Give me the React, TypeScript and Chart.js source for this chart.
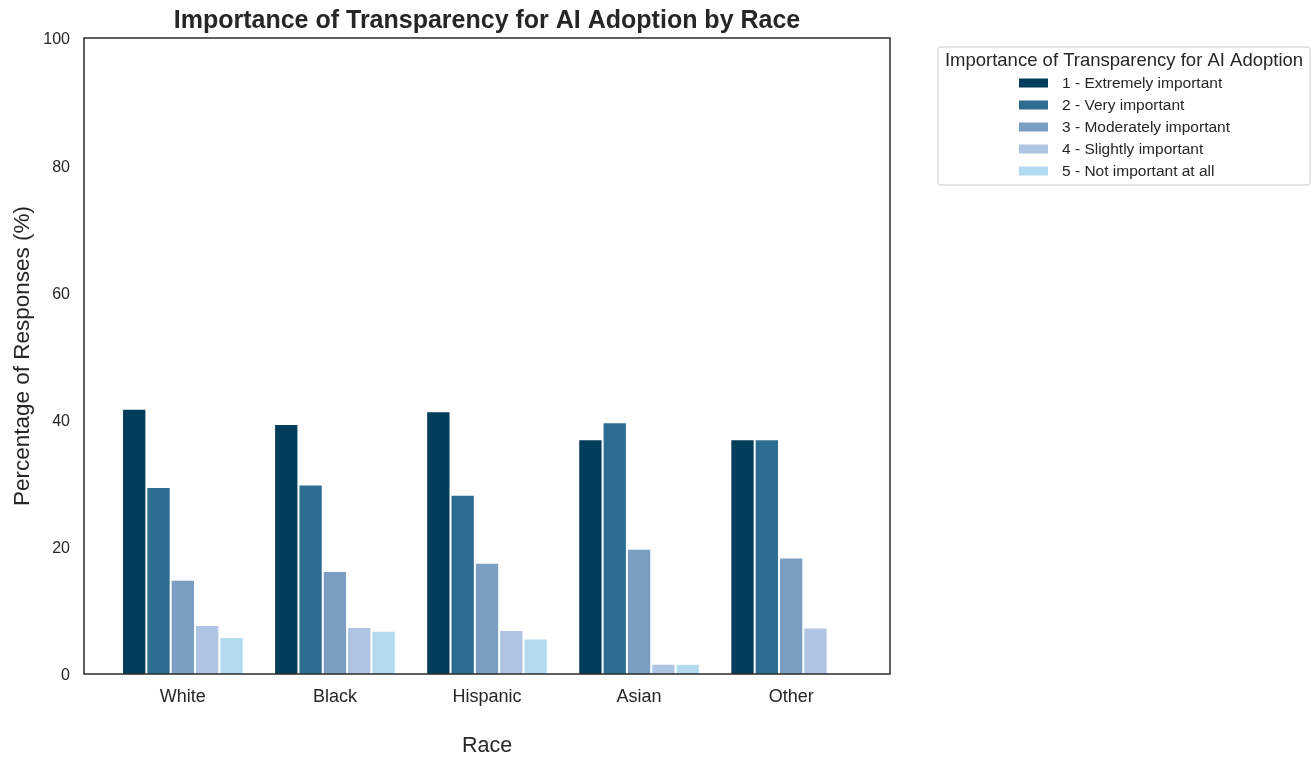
import React, { useEffect, useRef } from "react";
import { Chart, registerables } from "chart.js";

Chart.register(...registerables);

const categories = ["White", "Black", "Hispanic", "Asian", "Other"];
const seriesNames = [
  "1 - Extremely important",
  "2 - Very important",
  "3 - Moderately important",
  "4 - Slightly important",
  "5 - Not important at all",
];
const extremely = [41.7, 39.3, 41.3, 36.9, 36.9];
const very = [29.4, 29.8, 28.2, 39.6, 36.9];
const moderately = [14.8, 16.2, 17.5, 19.7, 18.3];
const slightly = [7.7, 7.4, 6.9, 1.6, 7.3];
const notAtAll = [5.8, 6.8, 5.6, 1.6, 0];
const seriesValues = [extremely, very, moderately, slightly, notAtAll];
const colors = ["#023d5b", "#2e6d92", "#7a9ec2", "#afc4e2", "#b2dbf0"];
const yTicks = [0, 20, 40, 60, 80, 100];

const FONT = "'Liberation Sans', Arial, Helvetica, sans-serif";
const TEXT = "#262626";

const framePlugin = {
  id: "frameAndExtras",
  afterDraw(chart: any) {
    const { ctx, chartArea } = chart;
    ctx.save();
    // frame
    ctx.strokeStyle = "#2b2b2b";
    ctx.lineWidth = 1.5;
    ctx.strokeRect(
      chartArea.left,
      chartArea.top,
      chartArea.right - chartArea.left,
      chartArea.bottom - chartArea.top
    );
    // title
    ctx.fillStyle = TEXT;
    ctx.font = `bold 25px ${FONT}`;
    ctx.textAlign = "center";
    ctx.textBaseline = "middle";
    ctx.fillText(
      "Importance of Transparency for AI Adoption by Race",
      (chartArea.left + chartArea.right) / 2,
      21
    );
    // legend
    const lx = 938, ly = 47, lw = 372, lh = 138;
    ctx.strokeStyle = "#cccccc";
    ctx.lineWidth = 1;
    ctx.beginPath();
    const r = 3;
    ctx.moveTo(lx + r, ly);
    ctx.lineTo(lx + lw - r, ly);
    ctx.quadraticCurveTo(lx + lw, ly, lx + lw, ly + r);
    ctx.lineTo(lx + lw, ly + lh - r);
    ctx.quadraticCurveTo(lx + lw, ly + lh, lx + lw - r, ly + lh);
    ctx.lineTo(lx + r, ly + lh);
    ctx.quadraticCurveTo(lx, ly + lh, lx, ly + lh - r);
    ctx.lineTo(lx, ly + r);
    ctx.quadraticCurveTo(lx, ly, lx + r, ly);
    ctx.closePath();
    ctx.fillStyle = "#ffffff";
    ctx.fill();
    ctx.stroke();
    ctx.fillStyle = TEXT;
    ctx.font = `18.5px ${FONT}`;
    ctx.textAlign = "center";
    ctx.fillText("Importance of Transparency for AI Adoption", lx + lw / 2, 61);
    ctx.font = `15.5px ${FONT}`;
    ctx.textAlign = "left";
    seriesNames.forEach((name, i) => {
      const cy = 83 + i * 22;
      ctx.fillStyle = colors[i];
      ctx.fillRect(1019, cy - 4.5, 29, 9);
      ctx.fillStyle = TEXT;
      ctx.fillText(name, 1062, cy + 1);
    });
    ctx.restore();
  },
};

export default function App() {
  const canvasRef = useRef<HTMLCanvasElement | null>(null);

  useEffect(() => {
    if (!canvasRef.current) return;
    const datasets = seriesNames.map((name, si) => ({
      label: name,
      data: seriesValues[si].map((v, ci) => ({ x: ci, y: v })),
      backgroundColor: colors[si],
      borderColor: "#ffffff",
      borderWidth: 1,
      categoryPercentage: 0.8,
      barPercentage: 1,
    }));
    const chart = new Chart(canvasRef.current, {
      type: "bar",
      data: { datasets },
      plugins: [framePlugin],
      options: {
        animation: false,
        responsive: true,
        maintainAspectRatio: false,
        layout: { padding: { top: 38, right: 426, left: 0, bottom: 0 } },
        plugins: {
          legend: { display: false },
          title: { display: false },
          tooltip: { enabled: false },
        },
        scales: {
          x: {
            type: "linear",
            position: "bottom",
            min: -0.65,
            max: 4.65,
            offset: false,
            grid: { display: false, drawTicks: false, offset: false },
            border: { display: false },
            afterBuildTicks: (scale: any) => {
              scale.ticks = categories.map((_, i) => ({ value: i }));
            },
            afterFit: (scale: any) => {
              scale.height = 85;
            },
            ticks: {
              autoSkip: false,
              maxRotation: 0,
              padding: 12,
              color: TEXT,
              font: { family: FONT, size: 18 },
              callback: (v: any) => categories[Math.round(Number(v))] ?? "",
            },
            title: {
              display: true,
              text: "Race",
              color: TEXT,
              font: { family: FONT, size: 21.5 },
              padding: { top: 0, bottom: 0 },
            },
          },
          y: {
            min: 0,
            max: 100,
            grid: { display: false, drawTicks: false },
            border: { display: false },
            afterBuildTicks: (scale: any) => {
              scale.ticks = yTicks.map((v) => ({ value: v }));
            },
            afterFit: (scale: any) => {
              scale.width = 84;
            },
            ticks: {
              padding: 14,
              labelOffset: 2,
              color: TEXT,
              font: { family: FONT, size: 16 },
            },
            title: {
              display: true,
              text: "Percentage of Responses (%)",
              color: TEXT,
              font: { family: FONT, size: 22.5 },
              padding: { top: 9, bottom: 0 },
            },
          },
        },
      } as any,
    });
    return () => chart.destroy();
  }, []);

  return (
    <div
      style={{
        position: "absolute",
        left: 0,
        top: 0,
        width: 1316,
        height: 759,
        background: "#ffffff",
      }}
    >
      <canvas ref={canvasRef} />
    </div>
  );
}
